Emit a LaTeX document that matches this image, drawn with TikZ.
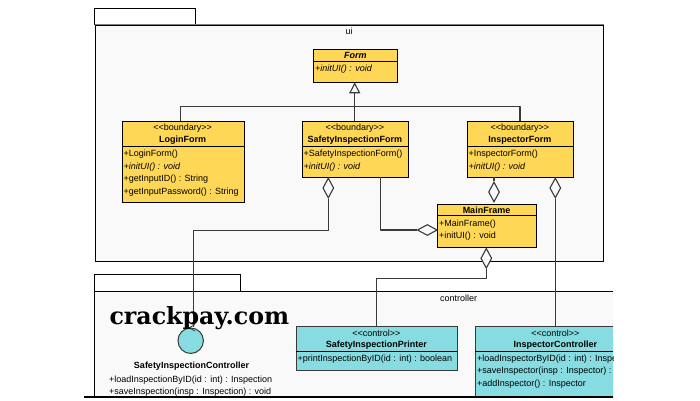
\documentclass[tikz,border=0pt]{standalone}
\usepackage{fontspec}
\setmainfont{Liberation Sans}
\newfontfamily\markfont{DejaVu Serif}
\usetikzlibrary{arrows.meta,shapes.geometric}
\definecolor{pkgfill}{HTML}{F9F9F9}
\definecolor{bndfill}{HTML}{FFD757}
\definecolor{ctlfill}{HTML}{86DCE0}
\definecolor{linegray}{HTML}{3A3A3A}
\newcommand{\stlabel}[1]{{<}{<}#1{>}{>}}
\tikzset{
	pkg/.style={draw=black,fill=pkgfill,line width=1pt},
	bnd/.style={draw=black,fill=bndfill,line width=1pt,anchor=north west,inner sep=0pt},
	ctl/.style={draw=linegray,fill=ctlfill,line width=1.1pt,anchor=north west,inner sep=0pt},
	sep/.style={line width=0.9pt},
	stereo/.style={font=\fontsize{9}{9}\selectfont,inner sep=0pt},
	cname/.style={font=\fontsize{9}{9}\selectfont\bfseries,inner sep=0pt},
	member/.style={font=\fontsize{9}{12.5}\selectfont,align=left,anchor=north west,inner sep=0pt},
	conn/.style={draw=linegray,line width=1.1pt,line join=round},
	aggr/.style={diamond,draw=linegray,fill=pkgfill,line width=1.1pt,inner sep=0pt,minimum width=11pt,minimum height=20pt},
}
\begin{document}
\begin{tikzpicture}[x=1pt,y=-1pt]
	\useasboundingbox (0,0) rectangle (700,400);
	% packages
	\draw [pkg,fill=white] (94.7,8.5) rectangle (195.7,24.7);
	\node [pkg,anchor=north west,minimum width=508.5pt,minimum height=236.5pt,inner sep=0pt] (ui) at (94.7,24.7) {};
	\draw [draw=gray,line width=1.3pt] (ui.north west)--(ui.north east);
	\node [inner sep=0pt,font=\fontsize{9}{9}\selectfont] (uilabel) at (349,31.5) {ui};
	\draw [pkg,fill=white] (94.7,274.7) rectangle (240.3,291.3);
	\begin{scope}
		\clip (84,270) rectangle (613,397.5);
		\fill [pkgfill] (94.7,291.3) rectangle (613,397);
		\draw [line width=1pt] (613,291.3)--(94.7,291.3)--(94.7,397);
		\node [inner sep=0pt,font=\fontsize{9}{9}\selectfont] (ctllabel) at (458.5,298) {controller};
		% control classes
		\node [ctl,minimum width=161.3pt,minimum height=44.3pt] (printer) at (295.7,326) {};
		\draw [sep] (295.7,351)--(457,351);
		\node [stereo] (printerst) at (376.3,333) {\stlabel{control}};
		\node [cname] (printerna) at (376.3,345) {SafetyInspectionPrinter};
		\node [member] (printerme) at (297.5,354.5) {+printInspectionByID(id : int) : boolean};
		\node [ctl,minimum width=160pt,minimum height=71pt] (inspctl) at (475.3,326) {};
		\draw [sep] (475.3,351)--(613,351);
		\node [stereo] (inspctlst) at (555.3,333) {\stlabel{control}};
		\node [cname] (inspctlna) at (555.3,345) {InspectorController};
		\node [member] (inspctlme) at (477,354.5) {+loadInspectorByID(id : int) : Inspection\\+saveInspector(insp : Inspector) : void\\+addInspector() : Inspector};
		% entity under the circle
		\node [cname] (sicname) at (191.5,366) {SafetyInspectionController};
		\node [member] (sicme) at (109,375.5) {+loadInspectionByID(id : int) : Inspection\\+saveInspection(insp : Inspection) : void};
		\draw [line width=1.3pt] (84,397)--(613,397);
	\end{scope}
	% boundary classes
	\node [bnd,minimum width=84pt,minimum height=33.6pt] (form) at (313.3,48.7) {};
	\draw [sep] (313.3,61.3)--(397.3,61.3);
	\node [cname,font=\fontsize{9}{9}\selectfont\bfseries\itshape] (formna) at (355.3,55.5) {Form};
	\node [member,font=\fontsize{9}{12.5}\selectfont\itshape] (formme) at (315,65) {+initUI() : void};
	\node [bnd,minimum width=122pt,minimum height=81pt] (login) at (121.7,121.3) {};
	\draw [sep] (121.7,146)--(243.7,146);
	\node [stereo] (loginst) at (182.7,128) {\stlabel{boundary}};
	\node [cname] (loginna) at (182.7,140) {LoginForm};
	\node [member] (loginme) at (123.3,150) {+LoginForm()\\\textit{+initUI() : void}\\+getInputID() : String\\+getInputPassword() : String};
	\node [bnd,minimum width=106.3pt,minimum height=56pt] (safety) at (301.7,121.3) {};
	\draw [sep] (301.7,146)--(408,146);
	\node [stereo] (safetyst) at (354.8,128) {\stlabel{boundary}};
	\node [cname] (safetyna) at (354.8,140) {SafetyInspectionForm};
	\node [member] (safetyme) at (303.3,150) {+SafetyInspectionForm()\\\textit{+initUI() : void}};
	\node [bnd,minimum width=106.3pt,minimum height=56pt] (inspform) at (466.7,121.3) {};
	\draw [sep] (466.7,146)--(573,146);
	\node [stereo] (inspformst) at (519.8,128) {\stlabel{boundary}};
	\node [cname] (inspformna) at (519.8,140) {InspectorForm};
	\node [member] (inspformme) at (468.3,150) {+InspectorForm()\\\textit{+initUI() : void}};
	\node [bnd,minimum width=98.4pt,minimum height=43.6pt] (main) at (437.3,203.7) {};
	\draw [sep] (437.3,215.3)--(535.7,215.3);
	\node [cname] (mainna) at (486.5,210) {MainFrame};
	\node [member] (mainme) at (439,219.5) {+MainFrame()\\+initUI() : void};
	% circle of the controller
	\node [circle,draw=linegray,fill=ctlfill,line width=1pt,minimum size=25.5pt,inner sep=0pt] (sic) at (190.7,340.7) {};
	\draw [draw=linegray,line width=0.8pt] (195,324.5)--(189,327.8)--(195,331);
	% generalization
	\coordinate (formtip) at (354.7,82.3);
	\coordinate (genjoin) at (354.7,106.7);
	\coordinate (loginup) at (180.3,121.3);
	\coordinate (inspup) at (520,121.3);
	\draw [conn,-{Triangle[open,length=11pt,width=11pt]}] (safety.north-|formtip)--(formtip);
	\draw [conn] (loginup)|-(genjoin);
	\draw [conn] (inspup)|-(genjoin);
	% aggregations
	\node [aggr] (d1) at (328.3,188) {};
	\node [aggr] (d2) at (427.3,230) [minimum width=20pt,minimum height=11pt] {};
	\node [aggr] (d3) at (494,192) {};
	\node [aggr] (d4) at (555.3,188) {};
	\node [aggr] (d5) at (486.3,258.3) {};
	\coordinate (d1turn) at (193.3,230.7);
	\coordinate (d2start) at (380.7,177.3);
	\coordinate (d3start) at (494,177.3);
	\coordinate (d5turn) at (376.3,278.7);
	\draw [conn] (d1.south)|-(d1turn)--(sic.north-|d1turn);
	\draw [conn] (d2start)|-(d2.west);
	\draw [conn] (d3start)--(d3.north);
	\draw [conn] (d4.south)--(inspctl.north-|d4);
	\draw [conn] (d5.south)|-(d5turn)--(printer.north-|d5turn);
	% watermark
	\node [inner sep=0pt,anchor=base west,font=\fontsize{23.7}{24}\selectfont\markfont\bfseries] (mark) at (109.3,324) {crackpay.com};
\end{tikzpicture}
\end{document}
